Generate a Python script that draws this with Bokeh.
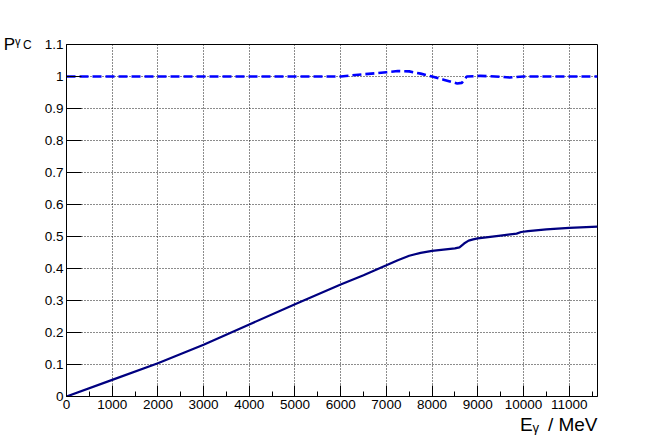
from bokeh.plotting import figure
from bokeh.models import (Range1d, FixedTicker, SingleIntervalTicker, CustomJSTickFormatter,
                          Title, LinearAxis)
from bokeh.embed import file_html
from bokeh.resources import INLINE

# ---- data ----
e_solid = [0, 1000, 2000, 3000, 4000, 5000, 6000, 6500, 7000, 7250, 7500, 7750, 8000, 8250,
           8500, 8600, 8700, 8800, 8900, 9000, 9500, 9850, 9950, 10100, 10500, 11000, 11620]
pc_solid = [0, 0.052, 0.104, 0.162, 0.225, 0.288, 0.350, 0.379, 0.410, 0.426, 0.440, 0.449,
            0.455, 0.459, 0.463, 0.466, 0.478, 0.487, 0.491, 0.494, 0.503, 0.509, 0.514,
            0.517, 0.522, 0.527, 0.531]

e_dash = [0, 1000, 2000, 3000, 4000, 5000, 6000, 6200, 6500, 6750, 7000, 7250, 7500,
          7750, 8000, 8250, 8550, 8650, 8760, 9050, 9250, 9500, 9700, 10000, 11000, 11620]
pc_dash = [1, 1, 1, 1, 1, 1, 1.0, 1.003, 1.007, 1.010, 1.0135, 1.017, 1.016,
           1.009, 1.0, 0.990, 0.978, 0.980, 1.0, 1.002, 1.001, 0.999, 0.997, 1.0, 1.0, 1.0]

y_ticks = [0, 0.1, 0.2, 0.3, 0.4, 0.5, 0.6, 0.7, 0.8, 0.9, 1.0, 1.1]
x_max = 11620
y_max = 1.1

FONT = "Liberation Sans"

p = figure(frame_width=531, frame_height=352, output_backend="svg", toolbar_location=None,
           x_range=Range1d(0, x_max), y_range=Range1d(0, y_max),
           min_border_left=66, min_border_top=44, min_border_bottom=44, min_border_right=67,
           background_fill_color="white", border_fill_color="white")

p.outline_line_color = "black"
p.outline_line_width = 1
p.outline_line_alpha = 1

# x axis
p.xaxis.ticker = SingleIntervalTicker(interval=1000, num_minor_ticks=2)
p.xaxis.major_tick_in = 11
p.xaxis.major_tick_out = 0
p.xaxis.minor_tick_in = 5
p.xaxis.minor_tick_out = 0
p.xaxis.major_label_standoff = 3
# y axis
p.yaxis.ticker = FixedTicker(ticks=y_ticks, minor_ticks=[])
p.yaxis.formatter = CustomJSTickFormatter(code="return parseFloat(tick.toFixed(2)).toString();")
p.yaxis.major_tick_in = 15
p.yaxis.major_tick_out = 0
p.yaxis.major_label_standoff = 3

for ax in (p.xaxis, p.yaxis):
    ax.axis_line_color = "black"
    ax.major_tick_line_color = "black"
    ax.minor_tick_line_color = "black"
    ax.major_label_text_font = FONT
    ax.major_label_text_font_size = "13.5px"
    ax.major_label_text_color = "black"

for g in (p.xgrid, p.ygrid):
    g.grid_line_color = "black"
    g.grid_line_dash = "1 2"
    g.grid_line_width = 1
    g.grid_line_alpha = 0.9

p.line(e_solid, pc_solid, line_color="#000080", line_width=2.2)
p.line(e_dash, pc_dash, line_color="#0000ff", line_width=2.6, line_dash="9 4")

# x title as a side-panel title
p.add_layout(Title(text="E\u1d67\u2009 / MeV", align="right", text_font=FONT, text_font_size="19px",
                   text_font_style="normal", text_color="black", standoff=0), "below")

# y title: subscript "C" on the main y axis, "P^gamma" on an outer label-only axis
yax = p.yaxis[0]
yax.axis_label = "C"
yax.axis_label_text_font = FONT
yax.axis_label_text_font_size = "12px"
yax.axis_label_text_font_style = "normal"
yax.axis_label_text_color = "black"
yax.axis_label_standoff = 10

outer = LinearAxis(ticker=FixedTicker(ticks=[], minor_ticks=[]), axis_label="P\u1d5e",
                   axis_line_color=None, major_tick_in=0, major_tick_out=0,
                   minor_tick_in=0, minor_tick_out=0, axis_label_standoff=0,
                   axis_label_text_font=FONT, axis_label_text_font_size="17px",
                   axis_label_text_font_style="normal", axis_label_text_color="black")
p.add_layout(outer, "left")

names = LinearAxis.properties()
for ax in (yax, outer):
    if "axis_label_orientation" in names:
        try:
            ax.axis_label_orientation = "horizontal"
        except Exception:
            pass
    if "axis_label_align" in names:
        try:
            ax.axis_label_align = "end"
        except Exception:
            try:
                ax.axis_label_align = "right"
            except Exception:
                pass

open("out.html", "w").write(file_html(p, INLINE))
